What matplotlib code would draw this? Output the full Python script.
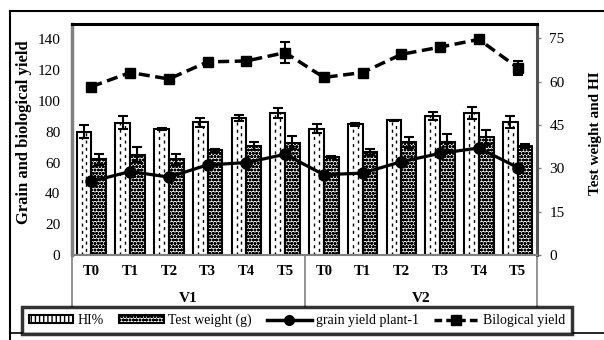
import matplotlib
matplotlib.use('Agg')
import matplotlib.pyplot as plt
from matplotlib.lines import Line2D
from matplotlib.patches import Patch
import matplotlib.transforms as mtransforms
import numpy as np

plt.rcParams['font.family'] = ['Liberation Serif', 'DejaVu Serif']
plt.rcParams['hatch.linewidth'] = 1.0

treatments = ['T0', 'T1', 'T2', 'T3', 'T4', 'T5']
varieties = ['V1', 'V2']
hi = [42.7, 45.8, 43.7, 46.0, 47.5, 49.2, 43.7, 45.2, 46.6, 48.0, 49.2, 46.1]
hi_err = [2.3, 2.3, 0.3, 1.5, 1.1, 1.7, 1.5, 0.6, 0.3, 1.4, 2.0, 2.2]
tw = [33.1, 34.8, 33.1, 36.3, 37.7, 38.9, 34.0, 35.6, 39.1, 39.1, 40.8, 37.7]
tw_err = [2.0, 2.5, 2.0, 0.5, 1.4, 2.3, 0.4, 1.1, 1.9, 2.9, 2.6, 0.8]
grain = [47.8, 54.2, 50.6, 58.5, 60.0, 65.4, 52.1, 53.2, 60.6, 66.0, 69.5, 56.8]
grain_err = [1.5, 1.5, 1.5, 1.5, 1.5, 1.5, 1.5, 1.5, 1.5, 1.5, 1.5, 1.5]
bio = [109.3, 118.5, 114.3, 125.4, 126.0, 131.4, 115.3, 118.5, 130.3, 135.0, 140.0, 121.7]
bio_err = [1.5, 1.5, 1.5, 1.5, 1.5, 7.0, 1.5, 1.5, 2.0, 2.5, 2.0, 4.5]

W, H = 604, 340
fig = plt.figure(figsize=(W / 100, H / 100), dpi=100)
ax = fig.add_axes([72 / W, 1 - 255 / H, 465 / W, 231 / H])
ax2 = ax.twinx()
ax.set_zorder(ax2.get_zorder() + 1)
ax.patch.set_visible(False)

n = len(treatments) * len(varieties)
x = np.arange(n)
w = 0.38

# bars on right axis
ax2.bar(x - w / 2, hi, w, facecolor='white', edgecolor='black', linewidth=1.5, zorder=2)
off = w / 6
ax2.vlines(x - w / 2 - off, 0, hi, colors='black', linewidth=1.0,
           linestyles=(0, (2.2, 3.0)), zorder=3)
ax2.vlines(x - w / 2 + off, 0, hi, colors='black', linewidth=1.0,
           linestyles=(2.6, (2.2, 3.0)), zorder=3)
ax2.bar(x + w / 2, tw, w, facecolor='white', edgecolor='black', linewidth=1.5,
        hatch='ooooo', zorder=2)
ax2.errorbar(x - w / 2, hi, yerr=hi_err, fmt='none', ecolor='black',
             elinewidth=1.5, capsize=3.5, capthick=1.5, zorder=4)
ax2.errorbar(x + w / 2, tw, yerr=tw_err, fmt='none', ecolor='black',
             elinewidth=1.5, capsize=3.5, capthick=1.5, zorder=4)

# lines on left axis
ax.errorbar(x, grain, yerr=grain_err, color='black', lw=2.3, marker='o',
            ms=8, capsize=3, elinewidth=1.3, zorder=5)
ax.errorbar(x, bio, yerr=bio_err, color='black', lw=2.5, ls=(0, (3.2, 1.6)),
            marker='s', ms=7, capsize=3.5, elinewidth=1.5, capthick=1.5, zorder=5)

ax.set_xlim(-0.5, n - 0.5)
ax.set_ylim(0, 150)
ax.set_yticks(np.arange(0, 141, 20))
ax2.set_ylim(0, 80)
ax2.set_yticks(np.arange(0, 76, 15))

ax.tick_params(axis='y', length=0, pad=8.5, labelsize=11)
ax2.tick_params(axis='y', length=3, color='#808080', width=1, pad=6, labelsize=11)
ax.set_xticks(x)
ax.set_xticklabels(treatments * len(varieties), fontweight='bold', fontsize=10.5)
ax.tick_params(axis='x', length=0, pad=7)
ax2.tick_params(axis='x', length=0, labelbottom=False)

for s in ax2.spines.values():
    s.set_visible(False)
ax.spines['left'].set_color('#808080')
ax.spines['left'].set_linewidth(2.5)
ax.spines['top'].set_color('black')
ax.spines['top'].set_linewidth(2.2)
ax.spines['right'].set_color('#555555')
ax.spines['right'].set_linewidth(2.2)
ax.spines['bottom'].set_color('#808080')
ax.spines['bottom'].set_linewidth(1.5)

trans = mtransforms.blended_transform_factory(ax.transData, ax.transAxes)
nt = len(treatments)
for i, v in enumerate(varieties):
    ax.text(i * nt + (nt - 1) / 2, -0.19, v, transform=trans, ha='center', va='center',
            fontweight='bold', fontsize=11)
for xv in [-0.5 + k * nt for k in range(len(varieties) + 1)]:
    ax.plot([xv, xv], [0, -0.225], transform=trans, color='#808080', lw=1.2,
            clip_on=False)

fig.text(24 / W, 1 - 132 / H, 'Grain and biological yield', rotation=90,
         ha='center', va='center', fontweight='bold', fontsize=12)
fig.text(595 / W, 1 - 133 / H, 'Test weight and HI', rotation=90,
         ha='center', va='center', fontweight='bold', fontsize=11)

# outer chart border
fig.add_artist(Line2D([10 / W, 1], [1 - 11 / H] * 2, color='black', lw=1.5,
                      transform=fig.transFigure))
fig.add_artist(Line2D([10 / W, 10 / W], [0, 1 - 11 / H], color='black', lw=1.5,
                      transform=fig.transFigure))
fig.add_artist(Line2D([10 / W, 1], [1 - 333 / H] * 2, color='black', lw=1.2,
                      transform=fig.transFigure))

handles = [
    Patch(facecolor='white', edgecolor='black', hatch='||||', linewidth=1.5),
    Patch(facecolor='white', edgecolor='black', hatch='ooooo', linewidth=1.5),
    Line2D([], [], color='black', lw=2.5, marker='o', ms=7),
    Line2D([], [], color='black', lw=2.5, ls=(0, (2.2, 1.2)), marker='s', ms=7),
]
labels = ['HI%', 'Test weight (g)', 'grain yield plant-1', 'Bilogical yield']
leg = fig.legend(handles, labels, loc='upper left',
                 bbox_to_anchor=(22 / W, 0, 550 / W, 1 - 307 / H),
                 mode='expand', ncol=4, fontsize=10, frameon=True, fancybox=False,
                 handlelength=3.2, handleheight=0.5, borderpad=0.5,
                 borderaxespad=0, columnspacing=1.0, handletextpad=0.3)
leg.get_frame().set_edgecolor('black')
leg.get_frame().set_linewidth(2.5)
leg.set_zorder(10)

fig.savefig('out.png', dpi=100)
